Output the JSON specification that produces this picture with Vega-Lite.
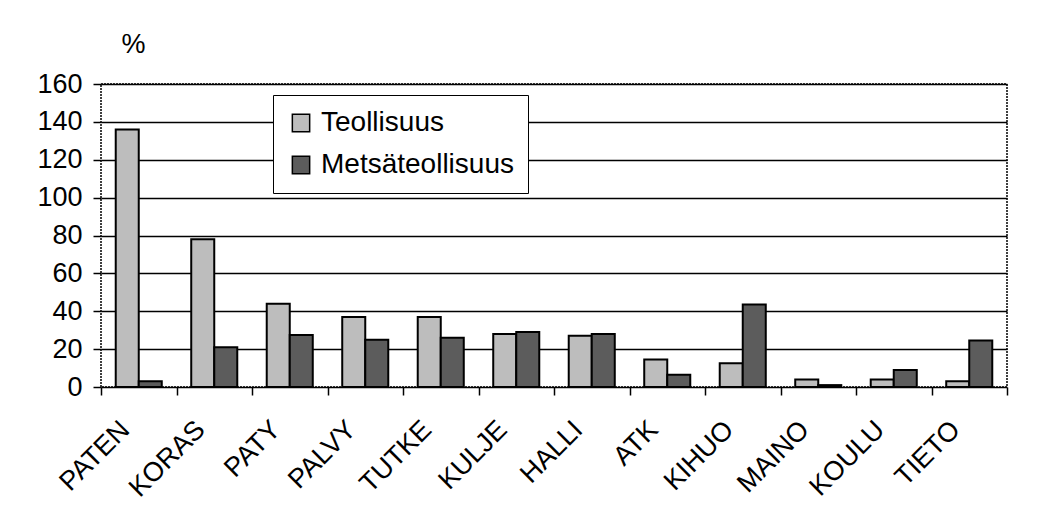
{
  "$schema": "https://vega.github.io/schema/vega-lite/v6.json",
  "width": 906,
  "height": 303,
  "autosize": {"type": "none"},
  "padding": {"left": 101, "top": 84, "right": 56, "bottom": 142},
  "background": "white",
  "config": {
    "font": "Liberation Sans",
    "view": {"stroke": "black", "strokeWidth": 1.5, "strokeDash": [2, 1]},
    "axis": {"labelColor": "black", "titleColor": "black", "tickColor": "black", "domain": false}
  },
  "data": {
    "values": [
      {"cat": "PATEN", "series": "Teollisuus", "value": 136},
      {"cat": "PATEN", "series": "Metsäteollisuus", "value": 3},
      {"cat": "KORAS", "series": "Teollisuus", "value": 78},
      {"cat": "KORAS", "series": "Metsäteollisuus", "value": 21},
      {"cat": "PATY", "series": "Teollisuus", "value": 44},
      {"cat": "PATY", "series": "Metsäteollisuus", "value": 27.5},
      {"cat": "PALVY", "series": "Teollisuus", "value": 37},
      {"cat": "PALVY", "series": "Metsäteollisuus", "value": 25},
      {"cat": "TUTKE", "series": "Teollisuus", "value": 37},
      {"cat": "TUTKE", "series": "Metsäteollisuus", "value": 26},
      {"cat": "KULJE", "series": "Teollisuus", "value": 28},
      {"cat": "KULJE", "series": "Metsäteollisuus", "value": 29},
      {"cat": "HALLI", "series": "Teollisuus", "value": 27},
      {"cat": "HALLI", "series": "Metsäteollisuus", "value": 28},
      {"cat": "ATK", "series": "Teollisuus", "value": 14.5},
      {"cat": "ATK", "series": "Metsäteollisuus", "value": 6.5},
      {"cat": "KIHUO", "series": "Teollisuus", "value": 12.5},
      {"cat": "KIHUO", "series": "Metsäteollisuus", "value": 43.5},
      {"cat": "MAINO", "series": "Teollisuus", "value": 4},
      {"cat": "MAINO", "series": "Metsäteollisuus", "value": 1},
      {"cat": "KOULU", "series": "Teollisuus", "value": 4},
      {"cat": "KOULU", "series": "Metsäteollisuus", "value": 9},
      {"cat": "TIETO", "series": "Teollisuus", "value": 3},
      {"cat": "TIETO", "series": "Metsäteollisuus", "value": 24.5}
    ]
  },
  "mark": {"type": "bar", "stroke": "black", "strokeWidth": 2},
  "encoding": {
    "x": {
      "field": "cat",
      "type": "nominal",
      "sort": ["PATEN", "KORAS", "PATY", "PALVY", "TUTKE", "KULJE", "HALLI", "ATK", "KIHUO", "MAINO", "KOULU", "TIETO"],
      "scale": {"paddingInner": 0, "paddingOuter": 0},
      "axis": {
        "title": null,
        "tickBand": "extent",
        "tickSize": 8,
        "tickWidth": 1.5,
        "labelAngle": -45,
        "labelAlign": "right",
        "labelBaseline": "top",
        "labelFontSize": 27,
        "labelPadding": 21,
        "labelOffset": -23,
        "grid": false
      }
    },
    "xOffset": {
      "field": "series",
      "type": "nominal",
      "sort": ["Teollisuus", "Metsäteollisuus"],
      "scale": {"paddingInner": 0, "paddingOuter": 0.64}
    },
    "y": {
      "field": "value",
      "type": "quantitative",
      "scale": {"domain": [0, 160], "nice": false},
      "axis": {
        "values": [0, 20, 40, 60, 80, 100, 120, 140, 160],
        "title": "%",
        "titleAngle": 0,
        "titleFontSize": 27,
        "titleFontWeight": "normal",
        "titleAlign": "center",
        "titleBaseline": "alphabetic",
        "titleX": 32,
        "titleY": -32,
        "labelFontSize": 27,
        "labelPadding": 11,
        "tickSize": 8,
        "tickWidth": 1.5,
        "grid": true,
        "gridColor": "black",
        "gridWidth": 1.5,
        "gridOpacity": 1
      }
    },
    "color": {
      "field": "series",
      "type": "nominal",
      "sort": ["Teollisuus", "Metsäteollisuus"],
      "scale": {"domain": ["Teollisuus", "Metsäteollisuus"], "range": ["#bdbdbd", "#5c5c5c"]},
      "legend": {
        "title": null,
        "orient": "none",
        "legendX": 172,
        "legendY": 11,
        "direction": "vertical",
        "padding": 14,
        "strokeColor": "black",
        "fillColor": "white",
        "symbolType": "square",
        "symbolSize": 300,
        "symbolStrokeColor": "black",
        "symbolStrokeWidth": 1.5,
        "symbolOpacity": 1,
        "labelFontSize": 28,
        "labelColor": "black",
        "labelOffset": 6,
        "labelLimit": 500,
        "rowPadding": 14
      }
    }
  }
}
